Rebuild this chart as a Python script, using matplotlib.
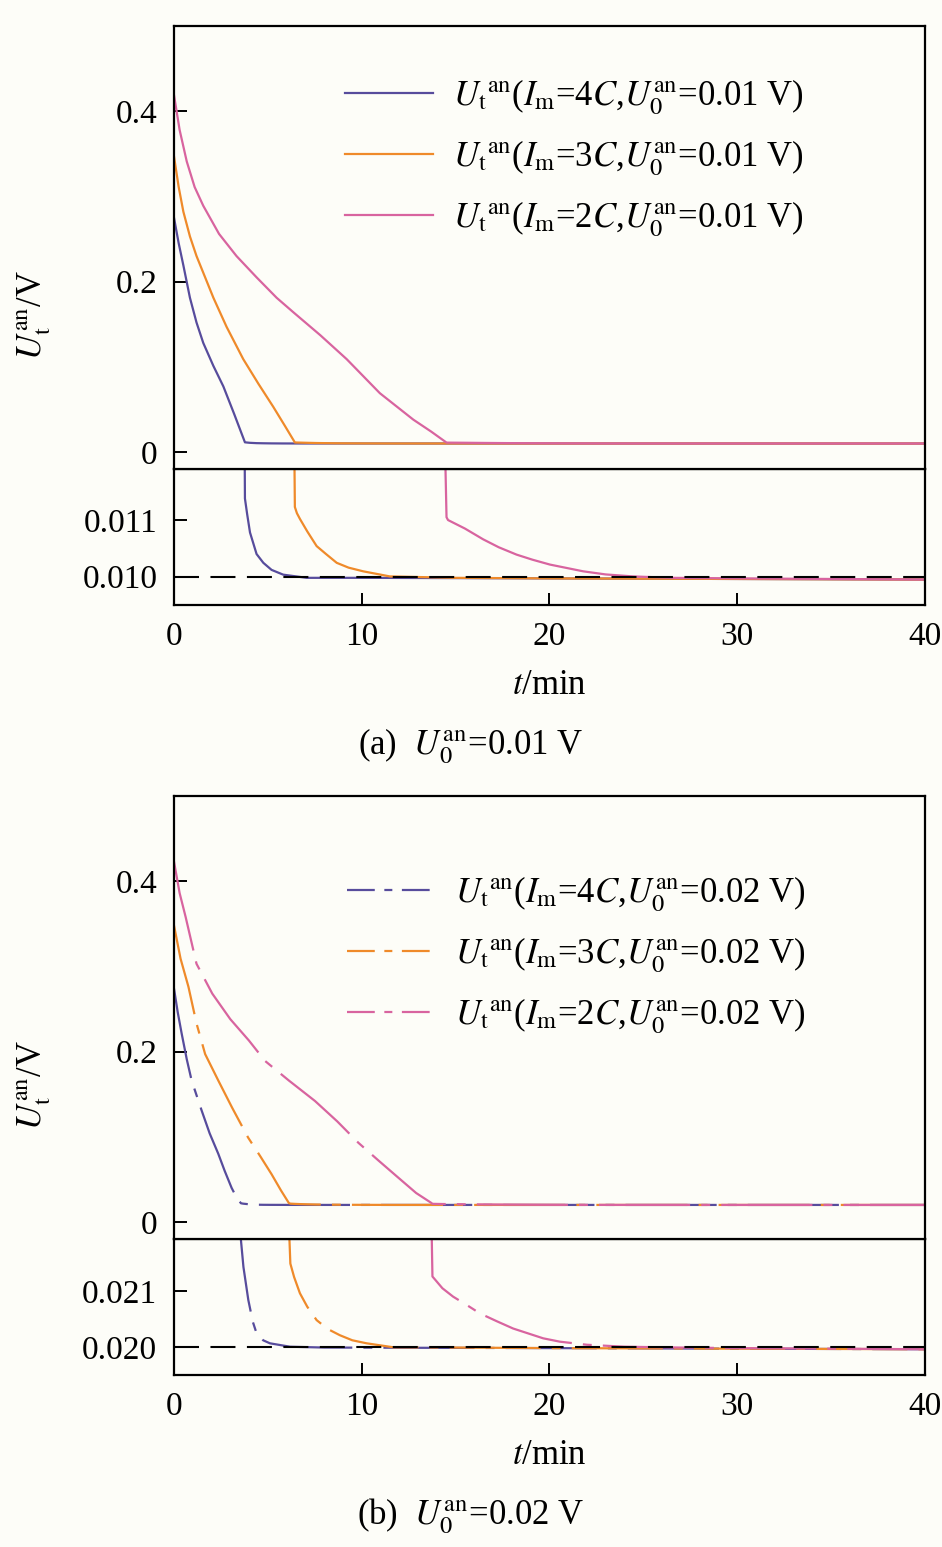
# === IMPORT LIBRARIES ===
import matplotlib
matplotlib.use("Agg")
import matplotlib.pyplot as plt
from matplotlib.lines import Line2D

# === DATA: PANEL (a), U0 = 0.01 V ===
t_a_4c = [0, 0.25, 0.5, 0.85, 1.2, 1.56, 2.1, 2.63, 3.2, 3.78, 3.9, 4.05, 4.4, 4.76, 5.2, 5.82, 7.07, 10, 20, 30, 40]
u_a_4c = [0.275, 0.245, 0.219, 0.181, 0.152, 0.128, 0.101, 0.077, 0.045, 0.01138, 0.01110, 0.01078, 0.01040,
          0.010245, 0.01012, 0.010036, 0.00998, 0.00998, 0.00997, 0.00996, 0.00995]

t_a_3c = [0, 0.25, 0.5, 0.85, 1.2, 2.1, 2.8, 3.69, 4.5, 5.29, 5.9, 6.44, 6.55, 6.71, 7.1, 7.6, 8.1, 8.67, 9.3,
          10.08, 11.5, 15, 20, 30, 40]
u_a_3c = [0.347, 0.311, 0.282, 0.253, 0.230, 0.181, 0.147, 0.109, 0.080, 0.053, 0.031, 0.01123, 0.01112,
          0.01102, 0.01080, 0.01054, 0.01040, 0.010245, 0.01016, 0.010095, 0.010005, 0.00998, 0.00997,
          0.00996, 0.00995]

t_a_2c = [0, 0.3, 0.68, 1.1, 1.56, 2.4, 3.33, 4.4, 5.47, 6.36, 7.8, 9.2, 10.97, 12.75, 13.7, 14.52, 14.6, 15.5,
          16.47, 17.3, 18.25, 19.1, 20.03, 21.8, 23.0, 24.46, 26.5, 30, 40]
u_a_2c = [0.419, 0.378, 0.341, 0.311, 0.289, 0.256, 0.230, 0.205, 0.181, 0.164, 0.137, 0.109, 0.069, 0.038,
          0.024, 0.01105, 0.01100, 0.01085, 0.01066, 0.01052, 0.01039, 0.01030, 0.010214, 0.010095, 0.01004,
          0.010005, 0.00998, 0.00997, 0.00995]

# === DATA: PANEL (b), U0 = 0.02 V ===
t_b_4c = [0, 0.2, 0.41, 0.68, 0.94, 1.47, 1.9, 2.36, 2.7, 3.07, 3.35, 3.57, 3.7, 3.96, 4.2, 4.4, 4.75, 5.11,
          6.18, 8, 20, 30, 40]
u_b_4c = [0.274, 0.246, 0.221, 0.191, 0.166, 0.131, 0.104, 0.080, 0.060, 0.040, 0.028, 0.0219, 0.02143,
          0.02084, 0.02045, 0.020245, 0.02012, 0.020066, 0.020005, 0.01999, 0.01998, 0.01997, 0.01996]

t_b_3c = [0, 0.35, 0.77, 1.2, 1.66, 2.36, 3.1, 3.95, 4.6, 5.2, 5.7, 6.12, 6.2, 6.4, 6.71, 7.1, 7.6, 8.2, 8.84,
          9.5, 10.26, 11.68, 15, 20, 30, 40]
u_b_3c = [0.348, 0.309, 0.276, 0.233, 0.197, 0.166, 0.134, 0.099, 0.077, 0.056, 0.037, 0.0222, 0.02149,
          0.02125, 0.02096, 0.02072, 0.02048, 0.02032, 0.02021, 0.02012, 0.020066, 0.019995, 0.01999,
          0.01998, 0.01997, 0.01996]

t_b_2c = [0, 0.3, 0.62, 1.2, 2.04, 3.0, 3.99, 4.85, 6.12, 7.51, 8.7, 9.82, 10.9, 11.95, 12.9, 13.72, 13.77,
          14.3, 14.87, 15.6, 16.3, 17.2, 18.07, 19.67, 20.56, 22, 24, 27, 30, 40]
u_b_2c = [0.423, 0.386, 0.358, 0.303, 0.268, 0.238, 0.213, 0.189, 0.166, 0.142, 0.118, 0.093, 0.072, 0.052,
          0.034, 0.0222, 0.02126, 0.02105, 0.0209, 0.02075, 0.0206, 0.02046, 0.02033, 0.020155, 0.020095,
          0.02004, 0.020005, 0.01999, 0.01998, 0.01996]

# === LABELS ===
currents = ["4", "3", "2"]
x_ticks = [0, 10, 20, 30, 40]
upper_ticks = [0, 0.2, 0.4]
upper_labels = ["0", "0.2", "0.4"]
lower_ticks_a = [0.010, 0.011]
lower_labels_a = ["0.010", "0.011"]
lower_ticks_b = [0.020, 0.021]
lower_labels_b = ["0.020", "0.021"]

colors = ["#574c9c", "#ef8a2a", "#d8649f"]
bg = "#fdfdf8"

# === STYLE ===
plt.rcParams["font.family"] = ["Liberation Serif", "DejaVu Serif"]
plt.rcParams["mathtext.fontset"] = "stix"
plt.rcParams["axes.linewidth"] = 1.6

fig = plt.figure(figsize=(9.42, 15.47), dpi=100, facecolor=bg)

L, W = 0.1847, 0.797
H_up, H_low = 0.2864, 0.0879


def style_axes(ax):
    ax.set_facecolor(bg)
    ax.set_xlim(0, 40)
    ax.tick_params(direction="in", length=9, width=1.4, labelsize=24, pad=12,
                   top=False, right=False)


def make_panel(bottom_low, series, u0, lower_ylim, lower_ticks, lower_labels,
               line_ls, legend_ls, tag, leg_x, leg_y):
    ax_low = fig.add_axes([L, bottom_low, W, H_low])
    ax_up = fig.add_axes([L, bottom_low + H_low, W, H_up])
    for ax in (ax_up, ax_low):
        style_axes(ax)

    handles, labels = [], []
    for (t, u), c, im in zip(series, colors, currents):
        for ax in (ax_up, ax_low):
            ax.plot(t, u, color=c, lw=1.6, linestyle=line_ls)
        handles.append(Line2D([], [], color=c, lw=1.6, linestyle=legend_ls))
        labels.append(r"$U_{\mathrm{t}}{}^{\mathrm{an}}$($I_{\mathrm{m}}$=" + im +
                      r"$C$,$U_0^{\mathrm{an}}$=" + u0 + " V)")

    ax_low.axhline(lower_ticks[0], color="black", lw=1.5, linestyle=(0, (12, 5.5)), zorder=5)

    ax_up.set_ylim(-0.02, 0.5)
    ax_up.set_yticks(upper_ticks)
    ax_up.set_yticklabels(upper_labels)
    ax_up.tick_params(axis="x", bottom=False, labelbottom=False)

    ax_low.set_ylim(*lower_ylim)
    ax_low.set_yticks(lower_ticks)
    ax_low.set_yticklabels(lower_labels)
    ax_low.set_xticks(x_ticks)
    ax_low.set_xlabel(r"$t$/min", fontsize=25, labelpad=12)

    ax_up.legend(handles, labels, loc="center left", bbox_to_anchor=(leg_x, leg_y),
                 frameon=False, fontsize=25, handlelength=2.55, handletextpad=0.55,
                 labelspacing=0.62, borderpad=0, borderaxespad=0)

    fig.text(0.036, bottom_low + (H_low + H_up) / 2, r"$U_{\mathrm{t}}^{\mathrm{an}}$/V",
             rotation=90, ha="center", va="center", fontsize=25)
    fig.text(0.5, bottom_low - 0.0910, "(" + tag + r")  $U_0^{\mathrm{an}}$=" + u0 + " V",
             ha="center", va="center", fontsize=25)


make_panel(0.6089,
           [(t_a_4c, u_a_4c), (t_a_3c, u_a_3c), (t_a_2c, u_a_2c)],
           "0.01", (0.0095, 0.0119), lower_ticks_a, lower_labels_a,
           "-", "-", "a", 0.2277, 0.702)

make_panel(0.1112,
           [(t_b_4c, u_b_4c), (t_b_3c, u_b_3c), (t_b_2c, u_b_2c)],
           "0.02", (0.0195, 0.02193), lower_ticks_b, lower_labels_b,
           (0, (41, 5, 4, 5)), (0, (12.5, 4.3, 3.6, 4.3)), "b", 0.2303, 0.641)

plt.savefig("out.png", dpi=100, facecolor=bg)
